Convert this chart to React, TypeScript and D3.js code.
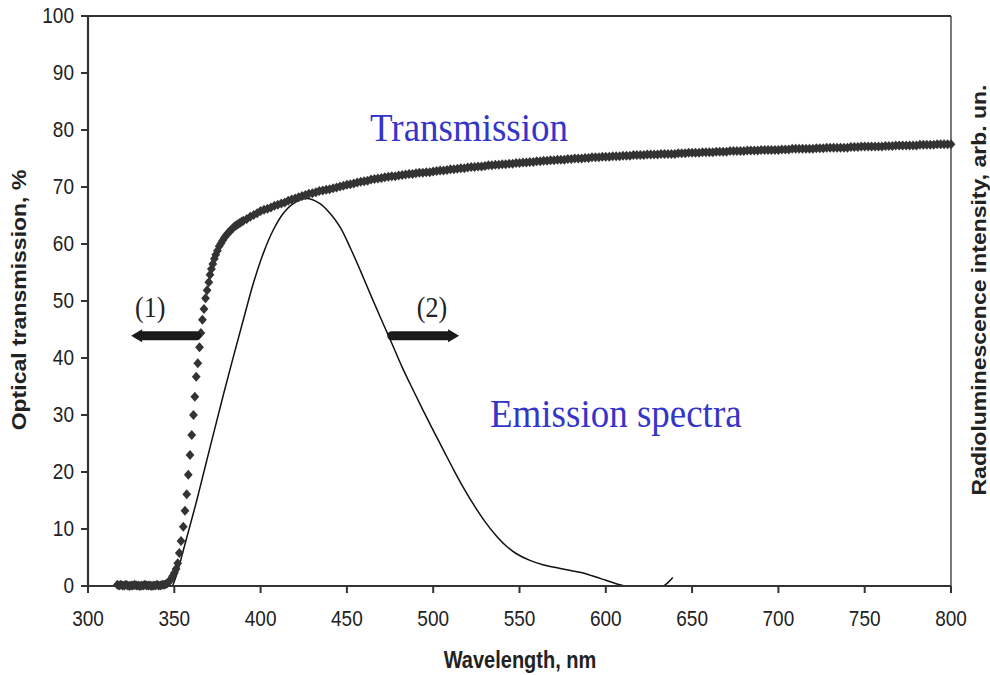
import * as d3 from 'd3';

const W = 990;
const H = 675;
const plot = { left: 88, right: 951, top: 16, bottom: 586 };

// axis ticks
const xTickValues = [300, 350, 400, 450, 500, 550, 600, 650, 700, 750, 800];
const yTickValues = [0, 10, 20, 30, 40, 50, 60, 70, 80, 90, 100];

// transmission, flat part before the edge (1 nm steps from 317)
const baseWl = d3.range(317, 345);
const baseT = [0.2, 0.1, 0.2, 0.1, 0.1, 0.2, 0.1, 0.0, 0.1, 0.1, 0.2, 0.1, 0.1, 0.0,
  0.1, 0.1, 0.2, 0.1, 0.1, 0.1, 0.0, 0.1, 0.1, 0.2, 0.1, 0.1, 0.2, 0.2];

// transmission, absorption edge
const edgeWl = [345, 346, 347, 348, 349, 350, 351, 352, 352.9, 353.9, 355.2, 356.2, 357.2, 358.1,
  359.1, 360.1, 361.1, 361.9, 362.7, 363.6, 364.6, 365.4, 366.3, 367.2, 368.1, 369, 370, 370.7,
  371.5, 372.3, 373.2, 374, 375, 376, 377, 378, 379, 380, 381, 382, 383, 384, 385, 386, 387, 388, 389];
const edgeT = [0.3, 0.5, 0.8, 1.2, 1.7, 2.3, 3.0, 4.0, 5.8, 7.9, 10.4, 13.2, 16.1, 19.5,
  23.0, 26.5, 30.0, 33.2, 36.7, 39.1, 41.9, 44.4, 46.7, 48.6, 50.5, 51.9, 53.3, 54.6,
  55.6, 56.5, 57.4, 58.1, 58.8, 59.6, 60.1, 60.6, 61.1, 61.5, 61.9, 62.2, 62.5, 62.8, 63.1, 63.3, 63.5, 63.7, 63.9];

// transmission plateau, 2 nm steps from 390 to 800
const plateauWl = d3.range(390, 801, 2);
const plateauT = [
  64.1, 64.4, 64.8, 65.1, 65.4, 65.8, 66.0, 66.2, 66.4, 66.7,
  66.9, 67.1, 67.3, 67.6, 67.8, 68.0, 68.2, 68.4, 68.6, 68.8,
  68.9, 69.1, 69.3, 69.4, 69.5, 69.6, 69.8, 69.9, 70.1, 70.2,
  70.4, 70.5, 70.6, 70.8, 70.9, 71.0, 71.1, 71.3, 71.4, 71.5,
  71.6, 71.7, 71.8, 71.9, 71.9, 72.0, 72.1, 72.2, 72.3, 72.3,
  72.4, 72.5, 72.5, 72.6, 72.6, 72.7, 72.8, 72.9, 72.9, 73.0,
  73.1, 73.1, 73.2, 73.3, 73.3, 73.4, 73.5, 73.5, 73.6, 73.6,
  73.7, 73.8, 73.8, 73.9, 73.9, 74.0, 74.0, 74.1, 74.1, 74.2,
  74.2, 74.3, 74.3, 74.4, 74.4, 74.5, 74.5, 74.6, 74.6, 74.7,
  74.7, 74.8, 74.8, 74.8, 74.9, 74.9, 75.0, 75.0, 75.0, 75.1,
  75.1, 75.2, 75.2, 75.2, 75.3, 75.3, 75.3, 75.4, 75.4, 75.4,
  75.5, 75.5, 75.5, 75.6, 75.6, 75.6, 75.6, 75.7, 75.7, 75.7,
  75.7, 75.8, 75.8, 75.8, 75.8, 75.8, 75.9, 75.9, 75.9, 76.0,
  76.0, 76.0, 76.0, 76.1, 76.1, 76.1, 76.1, 76.2, 76.2, 76.2,
  76.2, 76.3, 76.3, 76.3, 76.3, 76.3, 76.4, 76.4, 76.4, 76.4,
  76.5, 76.5, 76.5, 76.5, 76.5, 76.5, 76.6, 76.6, 76.6, 76.7,
  76.7, 76.7, 76.7, 76.7, 76.7, 76.7, 76.8, 76.8, 76.8, 76.9,
  76.9, 76.9, 76.9, 76.9, 76.9, 76.9, 77.0, 77.0, 77.0, 77.1,
  77.1, 77.1, 77.1, 77.1, 77.1, 77.1, 77.2, 77.2, 77.2, 77.3,
  77.3, 77.3, 77.3, 77.3, 77.3, 77.3, 77.4, 77.4, 77.4, 77.4,
  77.4, 77.5, 77.5, 77.5, 77.5, 77.5];

// emission spectrum (read on the left axis scale)
const emWl = [349, 351.4, 355, 359.1, 363, 366.8, 372.6, 378.4, 384.2, 390,
  395.8, 401.6, 407.4, 413.2, 418.9, 426.7, 434.4, 440.2, 446, 452,
  458, 464, 470, 476, 482, 488, 494, 500, 506, 512,
  518, 524, 530, 536, 542, 548, 556, 564, 575, 585,
  592, 600, 606, 611];
const emI = [0, 2.0, 6.0, 10.6, 15.0, 19.6, 26.6, 33.5, 40.2, 46.7,
  53.1, 58.4, 62.5, 65.4, 67.1, 68.0, 67.1, 65.4, 63.0, 59.3,
  55.2, 50.9, 46.7, 42.6, 38.4, 34.6, 30.9, 27.3, 23.8, 20.3,
  17.0, 14.0, 11.3, 9.0, 7.1, 5.7, 4.5, 3.7, 3.0, 2.4,
  1.8, 1.0, 0.4, 0];
const emTailWl = [633.5, 636, 638.8];
const emTailI = [0, 0.6, 1.5];

// arrows pointing to the axis each curve belongs to
const arrowLabels = ['(1)', '(2)'];
const arrowFromWl = [363, 476];
const arrowToWl = [325, 515];
const arrowLevel = 43.9;
const arrowLabelWl = [336, 499.3];
const arrowLabelLevel = 47.2;

const SANS = 'Arial, "Liberation Sans", sans-serif';
const SERIF = '"Times New Roman", "Liberation Serif", serif';
const INK = '#333';
const BLUE = '#3535c8';
const SY = 1.15; // the figure is a bit taller than wide

function STxt({ x, y, rot = 0, sy = SY, children, ...rest }: any) {
  return (
    <text transform={`translate(${x},${y}) scale(1,${sy}) rotate(${rot})`} {...rest}>
      {children}
    </text>
  );
}

export default function App() {
  const x = d3.scaleLinear().domain([300, 800]).range([plot.left, plot.right]);
  const y = d3.scaleLinear().domain([0, 100]).range([plot.bottom, plot.top]);

  const trans = [
    ...baseWl.map((w, i) => [w, baseT[i]]),
    ...edgeWl.map((w, i) => [w, edgeT[i]]),
    ...plateauWl.map((w, i) => [w, plateauT[i]]),
  ];

  const line = d3.line<number[]>()
    .x(d => x(d[0]))
    .y(d => y(d[1]))
    .curve(d3.curveCatmullRom.alpha(0.5));
  const emPath = line(emWl.map((w, i) => [w, emI[i]]));
  const emTailPath = line(emTailWl.map((w, i) => [w, emTailI[i]]));

  const diamond = 'M0,-5L4.4,0L0,5L-4.4,0Z';

  return (
    <svg width={W} height={H} style={{ position: 'absolute', left: 0, top: 0, background: '#fff' }}>
      {/* frame */}
      <line x1={plot.left} x2={plot.right} y1={plot.top} y2={plot.top} stroke={INK} strokeWidth={2} />
      <line x1={plot.right} x2={plot.right} y1={plot.top} y2={plot.bottom} stroke={INK} strokeWidth={1.3} />

      {/* emission spectrum */}
      <path d={emPath!} fill="none" stroke="#111" strokeWidth={1.5} />
      <path d={emTailPath!} fill="none" stroke="#111" strokeWidth={1.5} />

      {/* transmission markers */}
      <g fill={INK}>
        {trans.map((d, i) => (
          <path key={i} d={diamond} transform={`translate(${x(d[0])},${y(d[1])})`} />
        ))}
      </g>

      {/* axes */}
      <line x1={plot.left} x2={plot.left} y1={plot.top - 1} y2={plot.bottom + 1} stroke={INK} strokeWidth={2.2} />
      <line x1={plot.left} x2={plot.right} y1={plot.bottom} y2={plot.bottom} stroke={INK} strokeWidth={2.2} />
      {yTickValues.map(v => (
        <g key={'y' + v}>
          <line x1={plot.left - 7} x2={plot.left} y1={y(v)} y2={y(v)} stroke={INK} strokeWidth={2} />
          <STxt x={74} y={y(v) + 6.5} textAnchor="end" fontFamily={SANS} fontSize={19} fill="#222">{v}</STxt>
        </g>
      ))}
      {xTickValues.map(v => (
        <g key={'x' + v}>
          <line x1={x(v)} x2={x(v)} y1={plot.bottom} y2={plot.bottom + 7} stroke={INK} strokeWidth={2} />
          <STxt x={x(v)} y={626} textAnchor="middle" fontFamily={SANS} fontSize={19} fill="#222">{v}</STxt>
        </g>
      ))}

      {/* axis titles */}
      <STxt x={520} y={668} textAnchor="middle" fontFamily={SANS} fontSize={20} fontWeight="bold" fill="#222">
        Wavelength, nm
      </STxt>
      <STxt x={26} y={300} rot={-90} textAnchor="middle" fontFamily={SANS} fontSize={20} fontWeight="bold" fill="#222">
        Optical transmission, %
      </STxt>
      <STxt x={986} y={290} rot={-90} textAnchor="middle" fontFamily={SANS} fontSize={20} fontWeight="bold" fill="#222">
        Radioluminescence intensity, arb. un.
      </STxt>

      {/* arrows */}
      {arrowLabels.map((lab, i) => {
        const x0 = x(arrowFromWl[i]);
        const x1 = x(arrowToWl[i]);
        const yy = y(arrowLevel);
        const dir = x1 > x0 ? 1 : -1;
        const headBase = x1 - dir * 11;
        return (
          <g key={lab}>
            <line x1={x0} x2={headBase} y1={yy} y2={yy} stroke="#1a1a1a" strokeWidth={9} strokeLinecap="round" />
            <path d={`M${x1},${yy}L${headBase},${yy - 6.5}L${headBase},${yy + 6.5}Z`} fill="#1a1a1a" />
            <STxt x={x(arrowLabelWl[i])} y={y(arrowLabelLevel)} textAnchor="middle" fontFamily={SERIF} fontSize={26} fill="#222">
              {lab}
            </STxt>
          </g>
        );
      })}

      {/* curve names */}
      <STxt x={x(463.4)} y={y(78.1)} sy={1.1} fontFamily={SERIF} fontSize={37} fill={BLUE}>Transmission</STxt>
      <STxt x={x(532.9)} y={y(27.9)} sy={1.1} fontFamily={SERIF} fontSize={37} fill={BLUE}>Emission spectra</STxt>
    </svg>
  );
}
